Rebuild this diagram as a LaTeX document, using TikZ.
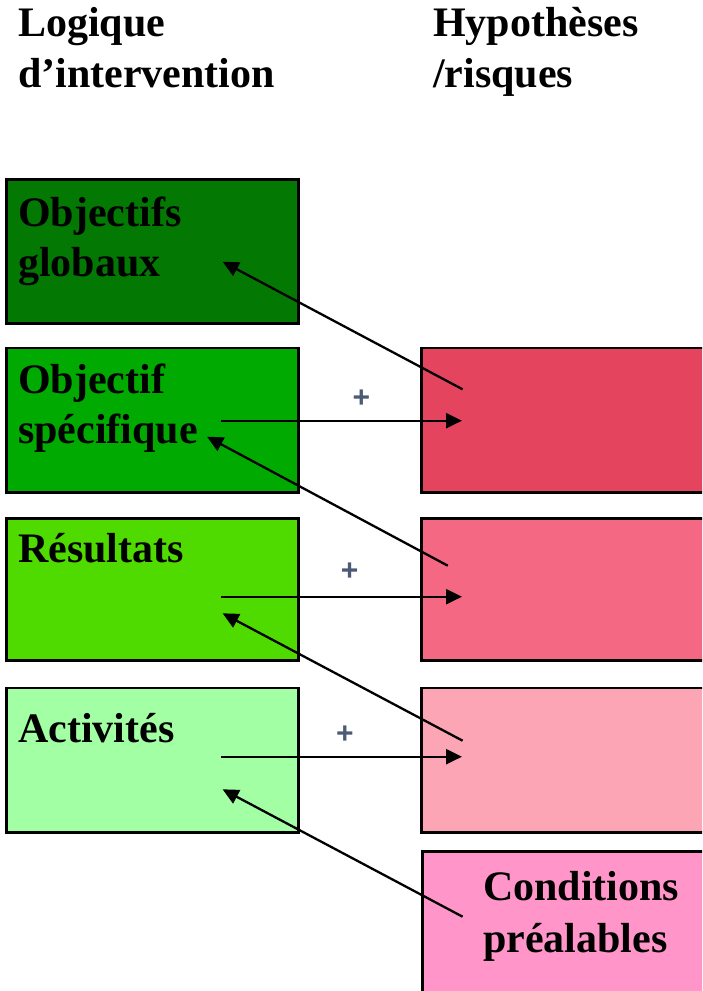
\documentclass[tikz,border=0pt]{standalone}
\usepackage{fontspec}
\setmainfont{Liberation Serif}
\setsansfont{Liberation Sans}
\usetikzlibrary{arrows.meta,positioning}

\definecolor{vertA}{RGB}{3,120,3}
\definecolor{vertB}{RGB}{0,170,0}
\definecolor{vertC}{RGB}{79,219,0}
\definecolor{vertD}{RGB}{163,255,163}
\definecolor{rougeA}{RGB}{229,68,95}
\definecolor{rougeB}{RGB}{245,104,131}
\definecolor{rougeC}{RGB}{252,165,180}
\definecolor{roseD}{RGB}{255,149,200}
\definecolor{plusgris}{RGB}{75,91,117}

\begin{document}
\begin{tikzpicture}[x=1pt,y=-1pt,
  boite/.style={draw=black,line width=2.7pt,anchor=north west,inner sep=0pt,minimum width=292pt},
  titre/.style={anchor=base west,inner sep=0pt,font=\bfseries\fontsize{42}{50}\selectfont},
  fleche/.style={line width=2.3pt,-{Triangle[length=16pt,width=15pt]}},
  plus/.style={text=plusgris,inner sep=0pt,font=\sffamily\bfseries\fontsize{30}{30}\selectfont}]

\clip (0,0) rectangle (702,991);
\useasboundingbox (0,0) rectangle (702,991);

% en-tetes
\node[titre] (log1) at (18,36) {Logique};
\node[titre] (log2) at (18,87) {d’intervention};
\node[titre] (hyp1) at (433,36) {Hypothèses};
\node[titre] (hyp2) at (433,87) {/risques};

% colonne de gauche
\node[boite,fill=vertA,minimum height=144pt] (og) at (5,178) {};
\node[boite,fill=vertB,minimum height=144.5pt] (os) at (5,346.5) {};
\node[boite,fill=vertC,minimum height=142pt] (res) at (5,517) {};
\node[boite,fill=vertD,minimum height=144.5pt] (act) at (5,686.5) {};

% colonne de droite (coupee par le bord)
\node[boite,fill=rougeA,minimum width=400pt,minimum height=144.5pt] (h1) at (420,346.5) {};
\node[boite,fill=rougeB,minimum width=400pt,minimum height=142pt] (h2) at (420,517) {};
\node[boite,fill=rougeC,minimum width=400pt,minimum height=144.5pt] (h3) at (420,686.5) {};
\node[boite,fill=roseD,minimum width=400pt,minimum height=200pt] (cp) at (421,850) {};

% textes des boites
\node[titre] (og1) at (18,226) {Objectifs};
\node[titre] (og2) at (18,276) {globaux};
\node[titre] (os1) at (18,393) {Objectif};
\node[titre] (os2) at (18,443) {spécifique};
\node[titre] (res1) at (18,562) {Résultats};
\node[titre] (act1) at (18,742) {Activités};
\node[titre] (cp1) at (483,900) {Conditions};
\node[titre] (cp2) at (483,952) {préalables};

% points d'attache
\coordinate (og-in) at (222.6,261.7);
\coordinate (os-out) at (221,420.7);
\coordinate (os-in) at (207,436.7);
\coordinate (res-out) at (221,596.7);
\coordinate (res-in) at (222.6,613.3);
\coordinate (act-out) at (221,756.7);
\coordinate (act-in) at (222.6,789.3);
\coordinate (h1-a) at (462.6,389.3);
\coordinate (h1-in) at (462,420.7);
\coordinate (h2-a) at (447.8,565.7);
\coordinate (h2-in) at (462,596.7);
\coordinate (h3-a) at (462.6,740.7);
\coordinate (h3-in) at (462,756.7);
\coordinate (cp-a) at (462.6,916.7);

% fleches
\draw[fleche] (os-out) -- (h1-in);
\draw[fleche] (res-out) -- (h2-in);
\draw[fleche] (act-out) -- (h3-in);
\draw[fleche] (h1-a) -- (og-in);
\draw[fleche] (h2-a) -- (os-in);
\draw[fleche] (h3-a) -- (res-in);
\draw[fleche] (cp-a) -- (act-in);

% signes plus
\node[plus] (p1) at (361.3,398.7) {+};
\node[plus] (p2) at (349.7,571.7) {+};
\node[plus] (p3) at (344.8,734.3) {+};
\end{tikzpicture}
\end{document}
